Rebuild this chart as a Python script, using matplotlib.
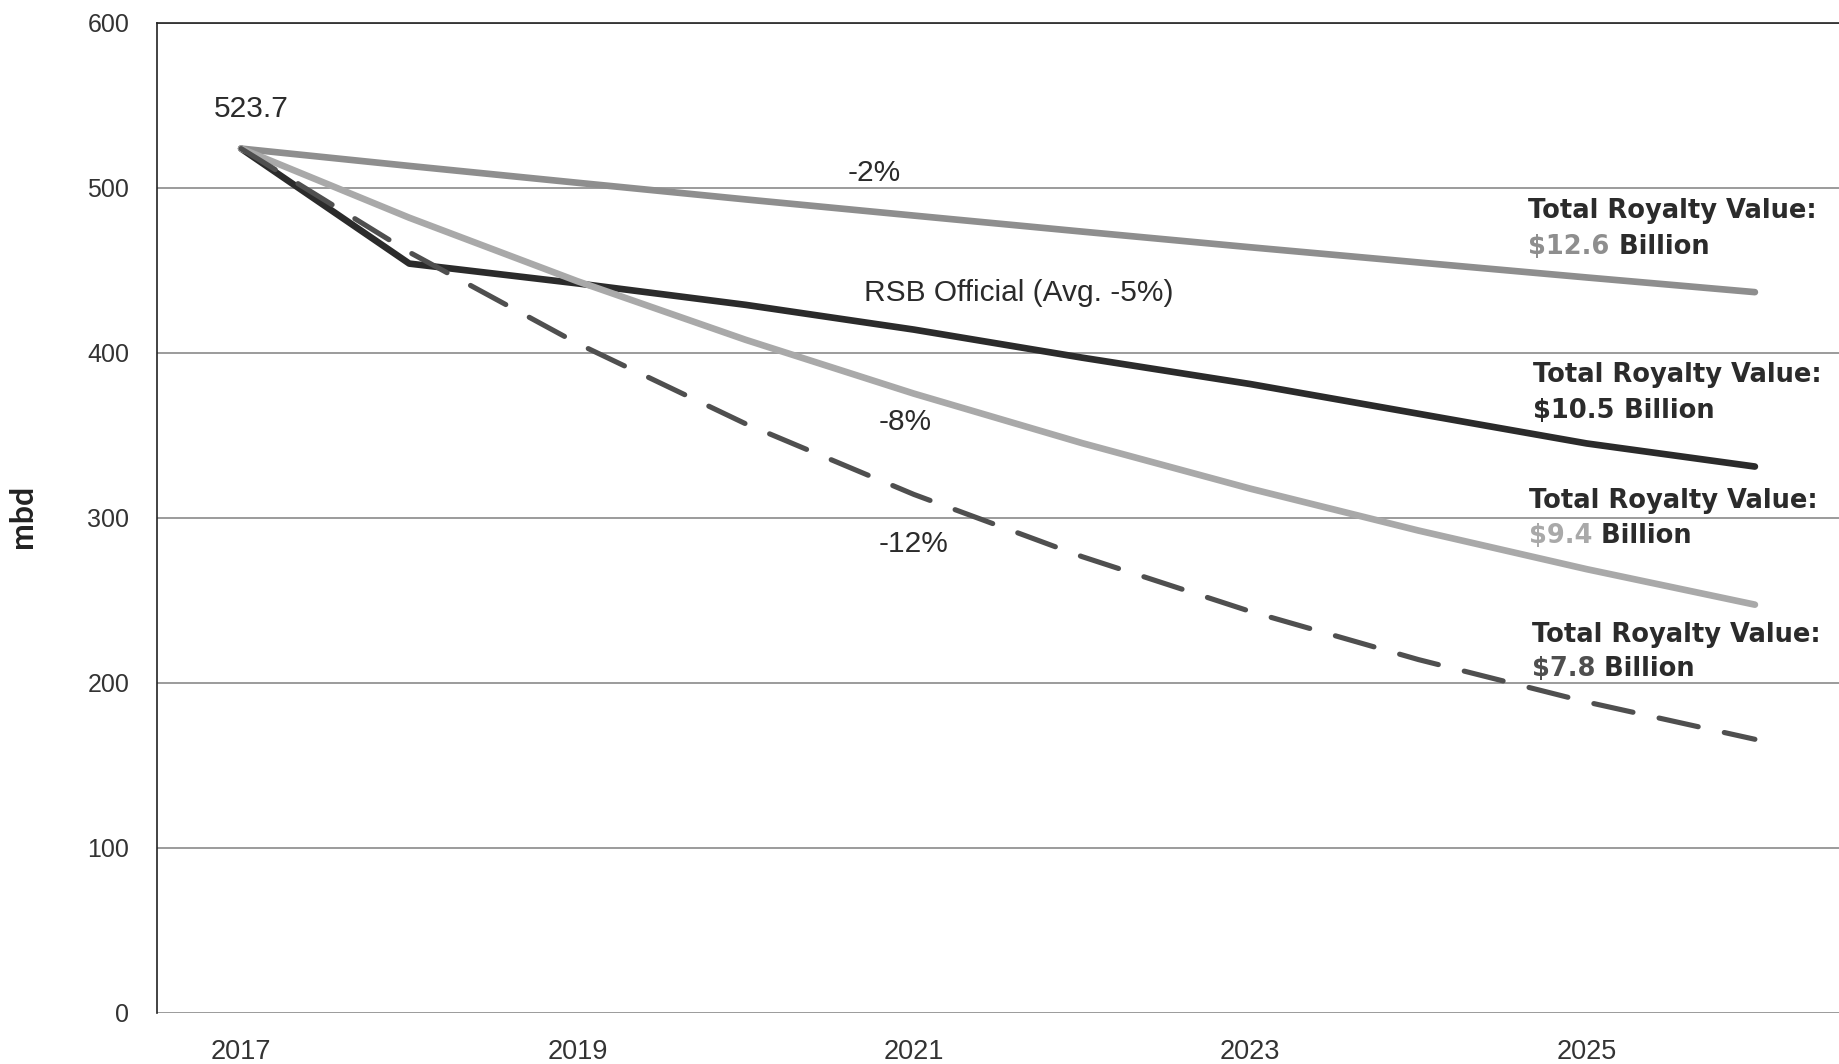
import matplotlib
matplotlib.use("Agg")
import matplotlib.pyplot as plt

# Production outlook, thousand barrels per day (mbd)
years = [2017, 2018, 2019, 2020, 2021, 2022, 2023, 2024, 2025, 2026]
rsb_official = [523.7, 454.0, 442.0, 429.0, 414.0, 397.0, 381.0, 363.0, 345.0, 331.0]
decline_2 = [523.7, 513.2, 503.0, 492.9, 483.1, 473.4, 463.9, 454.7, 445.6, 436.7]
decline_8 = [523.7, 481.8, 443.3, 407.8, 375.2, 345.2, 317.6, 292.2, 268.8, 247.3]
decline_12 = [523.7, 460.9, 405.6, 356.9, 314.1, 276.4, 243.2, 214.0, 188.3, 165.7]

y_ticks = [0, 100, 200, 300, 400, 500, 600]
x_ticks = [2017, 2019, 2021, 2023, 2025]

royalty_amounts = ["$12.6", "$10.5", "$9.4", "$7.8"]
scenario_labels = ["-2%", "RSB Official (Avg. -5%)", "-8%", "-12%"]

C_RSB = "#2b2b2b"
C_2 = "#8e8e8e"
C_8 = "#a9a9a9"
C_12 = "#4f4f4f"
C_TEXT = "#2b2b2b"
C_GRID = "#8a8a8a"

plt.rcParams["font.family"] = ["Liberation Sans", "DejaVu Sans"]

fig = plt.figure(figsize=(18.39, 10.64), dpi=100)
ax = fig.add_axes([157 / 1839, 1 - 1012.7 / 1064, 1 - 157 / 1839, (1012.7 - 22.7) / 1064])

ax.set_xlim(2016.5, 2026.5)
ax.set_ylim(0, 600)

# horizontal grid
ax.set_yticks(y_ticks)
ax.yaxis.grid(True, color=C_GRID, linewidth=1.2)
ax.set_axisbelow(True)
ax.set_xticks(x_ticks)
ax.tick_params(axis="y", length=0, pad=20, labelsize=18, labelcolor="#333333")
ax.tick_params(axis="x", length=0, pad=19, labelsize=19.5, labelcolor="#333333")

for side in ("right", "bottom"):
    ax.spines[side].set_visible(False)
for side in ("left", "top"):
    ax.spines[side].set_color("#222222")
    ax.spines[side].set_linewidth(1.2)

# series
ax.plot(years, rsb_official, color=C_RSB, lw=4.8, solid_capstyle="round",
        solid_joinstyle="round", zorder=3)
ax.plot(years, decline_2, color=C_2, lw=4.8, solid_capstyle="round", zorder=4)
ax.plot(years, decline_8, color=C_8, lw=4.8, solid_capstyle="round", zorder=4)
ax.plot(years, decline_12, color=C_12, lw=3.7, linestyle=(0, (7.8, 5.2)),
        dash_capstyle="round", zorder=5)

# starting value
ax.text(years[0] + 0.06, 542.7, f"{rsb_official[0]:.1f}", fontsize=21.5,
        color=C_TEXT, ha="center", va="baseline")

# scenario labels
label_pos = [(2020.762, 504.3), (2021.623, 431.5), (2020.947, 353.2), (2020.996, 279.4)]
for txt, (lx, ly) in zip(scenario_labels, label_pos):
    ax.text(lx, ly, txt, fontsize=21.5, color=C_TEXT, ha="center", va="baseline")

# royalty value callouts
callout_pos = [(2024.652, 481.7, 460.1), (2024.682, 382.2, 360.5),
               (2024.656, 305.8, 284.7), (2024.672, 224.6, 204.0)]
amount_colors = [C_2, C_RSB, C_8, C_12]
bold_font = dict(family=["DejaVu Sans"], fontweight="bold", fontsize=18.5)
for amount, col, (cx, y1, y2) in zip(royalty_amounts, amount_colors, callout_pos):
    ax.text(cx, y1, "Total Royalty Value:", color=C_TEXT, ha="left",
            va="baseline", **bold_font)
    t_amt = ax.text(cx, y2, amount, color=col, ha="left", va="baseline", **bold_font)
    ax.annotate(" Billion", xy=(1, 0), xycoords=t_amt, ha="left", va="bottom",
                color=C_TEXT, **bold_font)

fig.text(23 / 1839, 1 - 516 / 1064, "mbd", rotation=90, ha="center", va="center",
         fontsize=23, fontweight="bold", color="#222222",
         family=["Lato", "DejaVu Sans"])

fig.savefig("out.png", dpi=100, facecolor="white")
